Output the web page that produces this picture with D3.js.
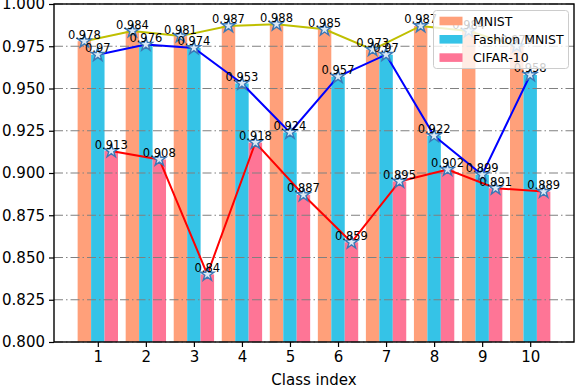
<!DOCTYPE html>
<html>
<head>
<meta charset="utf-8">
<script src="https://cdn.jsdelivr.net/npm/d3@7"></script>
<style>
  body { margin: 0; background: #fff; }
  svg { display: block; font-family: "DejaVu Sans", sans-serif; }
</style>
</head>
<body>
<div id="chart"></div>
<script>
// values
var classes = [1, 2, 3, 4, 5, 6, 7, 8, 9, 10];
var mnist = [0.978, 0.984, 0.981, 0.987, 0.988, 0.985, 0.973, 0.987, 0.984, 0.975];
var fashion = [0.97, 0.976, 0.974, 0.953, 0.924, 0.957, 0.97, 0.922, 0.899, 0.958];
var cifar = [0.913, 0.908, 0.84, 0.918, 0.887, 0.859, 0.895, 0.902, 0.891, 0.889];
var seriesNames = ["MNIST", "Fashion MNIST", "CIFAR-10"];
var yTicks = [0.800, 0.825, 0.850, 0.875, 0.900, 0.925, 0.950, 0.975, 1.000];

var W = 576, H = 388;
var barW = 0.28;
var barColors = ["#ffa07a", "#35c3e7", "#fe7596"];
var lineColors = ["#bfbf00", "#0000ff", "#ff0000"];

var svg = d3.select("#chart").append("svg").attr("width", W).attr("height", H);

var x = d3.scaleLinear().domain([0.088, 10.912]).range([54, 574]);
var y = d3.scaleLinear().domain([0.8, 1.0]).range([342, 4]);

var allSeries = [mnist, fashion, cifar];

// bars
allSeries.forEach(function(vals, s) {
	var off = (s - 1) * barW;
	svg.append("g").selectAll("rect").data(vals).enter().append("rect")
		.attr("x", function(d, i) { return x(classes[i] + off - barW / 2); })
		.attr("y", function(d) { return y(d); })
		.attr("width", function(d, i) { return x(classes[i] + off + barW / 2) - x(classes[i] + off - barW / 2); })
		.attr("height", function(d) { return y(0.8) - y(d); })
		.attr("fill", barColors[s]);
});

// grid
svg.append("g").selectAll("line").data(yTicks).enter().append("line")
	.attr("x1", x.range()[0]).attr("x2", x.range()[1])
	.attr("y1", function(d) { return y(d); }).attr("y2", function(d) { return y(d); })
	.attr("stroke", "#808080").attr("stroke-width", 1.2)
	.attr("stroke-dasharray", "9,3,1.5,3");

// lines + markers
var star = d3.symbol().type(d3.symbolStar).size(55);
allSeries.forEach(function(vals, s) {
	var off = (s - 1) * barW;
	var pts = vals.map(function(d, i) { return [x(classes[i] + off), y(d)]; });
	svg.append("path").attr("d", d3.line()(pts))
		.attr("fill", "none").attr("stroke", lineColors[s]).attr("stroke-width", 2);
	svg.append("g").selectAll("path").data(pts).enter().append("path")
		.attr("d", star)
		.attr("transform", function(p) { return "translate(" + p[0] + "," + p[1] + ")"; })
		.attr("fill", "#dce9f5").attr("stroke", "#3b78b5").attr("stroke-width", 1.4);
});

// value labels
allSeries.forEach(function(vals, s) {
	var off = (s - 1) * barW;
	svg.append("g").selectAll("text").data(vals).enter().append("text")
		.attr("x", function(d, i) { return x(classes[i] + off); })
		.attr("y", function(d) { return y(d) - 2.5; })
		.attr("text-anchor", "middle").attr("font-size", "11.5px")
		.attr("fill", "#000")
		.text(function(d) { return String(d); });
});

// axes
var yAxis = svg.append("g").attr("transform", "translate(" + x.range()[0] + ",0)")
	.call(d3.axisLeft(y).tickValues(yTicks).tickFormat(d3.format(".3f")).tickSize(5).tickPadding(4));
var xAxis = svg.append("g").attr("transform", "translate(0," + y.range()[0] + ")")
	.call(d3.axisBottom(x).tickValues(classes).tickFormat(d3.format("d")).tickSize(5).tickPadding(4));
[yAxis, xAxis].forEach(function(a) {
	a.select(".domain").remove();
	a.selectAll("text").attr("font-size", "15px").attr("font-family", "DejaVu Sans").attr("fill", "#000");
	a.selectAll("line").attr("stroke", "#000").attr("stroke-width", 1.2);
});

// frame
svg.append("rect").attr("x", x.range()[0]).attr("y", y.range()[1])
	.attr("width", x.range()[1] - x.range()[0]).attr("height", y.range()[0] - y.range()[1])
	.attr("fill", "none").attr("stroke", "#000").attr("stroke-width", 1.4);

svg.append("text").attr("x", (x.range()[0] + x.range()[1]) / 2).attr("y", 385)
	.attr("text-anchor", "middle").attr("font-size", "15px").text("Class index");

// legend
var lg = svg.append("g");
lg.append("rect").attr("x", 433.5).attr("y", 10.5).attr("width", 135).attr("height", 58)
	.attr("rx", 3).attr("fill", "#fff").attr("fill-opacity", 0.8)
	.attr("stroke", "#cccccc").attr("stroke-width", 1);
seriesNames.forEach(function(name, s) {
	var cy = 21 + s * 18.3;
	lg.append("rect").attr("x", 439.5).attr("y", cy - 4.3).attr("width", 23).attr("height", 8.6)
		.attr("fill", barColors[s]);
	lg.append("text").attr("x", 473).attr("y", cy).attr("dy", "0.36em")
		.attr("font-size", "12.5px").text(name);
});
</script>
</body>
</html>
